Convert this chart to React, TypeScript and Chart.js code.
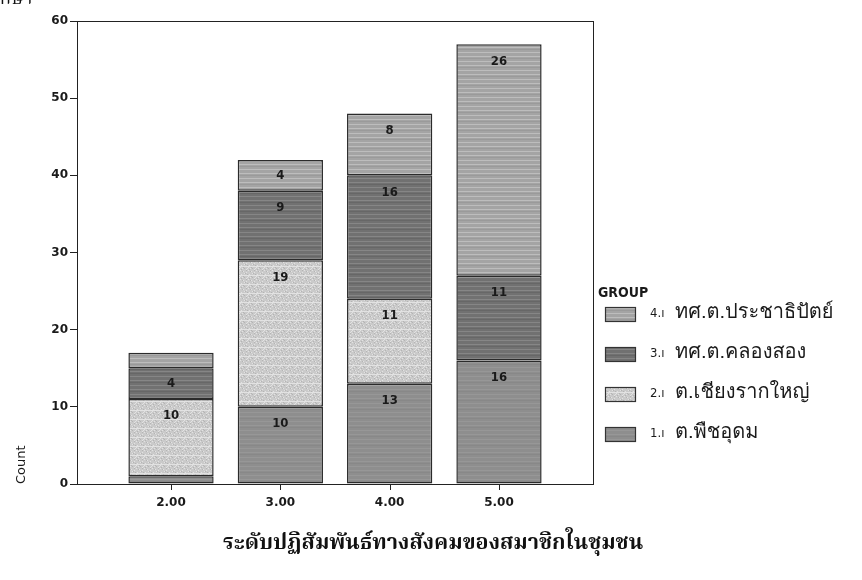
import React, { useEffect, useRef } from 'react';
import { Chart, registerables } from 'chart.js';

Chart.register(...registerables);

// ---- data ----
const levels = [2, 3, 4, 5];
const levelTicks = ['2.00', '3.00', '4.00', '5.00'];
const groupNames = ['ต.พืชอุดม', 'ต.เชียงรากใหญ่', 'ทศ.ต.คลองสอง', 'ทศ.ต.ประชาธิปัตย์'];
// bar segment heights as drawn in the picture
const group1 = [1, 10, 13, 16];
const group2 = [10, 19, 11, 0];
const group3 = [4, 9, 16, 11];
const group4 = [2, 4, 8, 30];
// counts printed inside the segments
const group1Printed = [1, 10, 13, 16];
const group2Printed = [10, 19, 11, 0];
const group3Printed = [4, 9, 16, 11];
const group4Printed = [2, 4, 8, 26];
const yTicks = [0, 10, 20, 30, 40, 50, 60];
const xTitle = 'ระดับปฏิสัมพันธ์ทางสังคมของสมาชิกในชุมชน';
const yTitle = 'Count';
const legendTitle = 'GROUP';
const cornerText = 'กษา';

const SANS = '"DejaVu Sans", sans-serif';
const SANS_C = '"DejaVu Sans Condensed", "DejaVu Sans", sans-serif';
const THAI_SANS = '"Loma", "Garuda", "Noto Sans Thai Looped", "Noto Sans Thai", "Tlwg Typo", sans-serif';
const THAI = '"Noto Serif Thai", "Norasi", "Noto Sans Thai", "Loma", "Garuda", serif';

function makePattern(base: string, light: string, dark: string, kind: 'stripe' | 'speckle'): CanvasPattern | string {
  const c = document.createElement('canvas');
  c.width = 8;
  c.height = 9;
  const g = c.getContext('2d');
  if (!g) return base;
  g.fillStyle = base;
  g.fillRect(0, 0, 8, 9);
  if (kind === 'stripe') {
    g.fillStyle = light;
    g.fillRect(0, 2, 8, 1);
    g.fillRect(0, 7, 8, 1);
    g.fillStyle = dark;
    g.fillRect(0, 4, 8, 1);
  } else {
    const lightPts = [[0, 0], [3, 1], [6, 2], [1, 4], [5, 5], [2, 7], [7, 7], [4, 3], [0, 6], [6, 8]];
    const darkPts = [[2, 1], [5, 3], [7, 4], [3, 6], [1, 8], [6, 0], [4, 7]];
    g.fillStyle = light;
    lightPts.forEach(([x, y]) => g.fillRect(x, y, 1, 1));
    g.fillStyle = dark;
    darkPts.forEach(([x, y]) => g.fillRect(x, y, 1, 1));
    g.fillStyle = light;
    g.fillRect(0, 5, 8, 1);
  }
  const p = g.createPattern(c, 'repeat');
  return p || base;
}

export default function App() {
  const ref = useRef<HTMLCanvasElement>(null);

  useEffect(() => {
    document.body.style.margin = '0';
    const canvas = ref.current;
    if (!canvas) return;

    const fills = [
      makePattern('#8e8e8e', '#979797', '#888888', 'stripe'),
      makePattern('#cacaca', '#e2e2e2', '#b4b4b4', 'speckle'),
      makePattern('#717171', '#868686', '#676767', 'stripe'),
      makePattern('#a4a4a4', '#bdbdbd', '#9a9a9a', 'stripe'),
    ];
    const series = [group1, group2, group3, group4];
    const printed = [group1Printed, group2Printed, group3Printed, group4Printed];

    const labelsPlugin = {
      id: 'segLabels',
      afterDatasetsDraw(chart: any) {
        const ctx = chart.ctx;
        ctx.save();
        ctx.font = `bold 13px ${SANS_C}`;
        ctx.fillStyle = '#1a1a1a';
        ctx.textAlign = 'center';
        ctx.textBaseline = 'middle';
        chart.data.datasets.forEach((ds: any, di: number) => {
          const meta = chart.getDatasetMeta(di);
          meta.data.forEach((el: any, i: number) => {
            const v = printed[di][i];
            const top = Math.min(el.y, el.base);
            const bottom = Math.max(el.y, el.base);
            if (!v || bottom - top < 25) return;
            const y = Math.min(top + 17, (top + bottom) / 2);
            ctx.fillText(String(v), el.x, y);
          });
        });
        ctx.restore();
      },
    };

    const framePlugin = {
      id: 'frameAndText',
      afterDraw(chart: any) {
        const ctx = chart.ctx;
        const a = chart.chartArea;
        ctx.save();
        ctx.strokeStyle = '#222';
        ctx.lineWidth = 1;
        ctx.strokeRect(Math.round(a.left) + 0.5, Math.round(a.top) + 0.5, Math.round(a.right - a.left), Math.round(a.bottom - a.top));

        // x tick marks
        const xs = chart.scales.x;
        levels.forEach((v) => {
          const px = Math.round(xs.getPixelForValue(v)) + 0.5;
          ctx.beginPath();
          ctx.moveTo(px, a.bottom);
          ctx.lineTo(px, a.bottom + 6);
          ctx.stroke();
        });

        // legend
        const lx = a.right + 12;
        ctx.fillStyle = '#1a1a1a';
        ctx.textBaseline = 'middle';
        ctx.textAlign = 'left';
        ctx.font = `bold 14px ${SANS_C}`;
        ctx.fillText(legendTitle, a.right + 5, 293);
        for (let k = 0; k < groupNames.length; k++) {
          const gi = groupNames.length - 1 - k;
          const cy = 314 + k * 40;
          ctx.fillStyle = fills[gi] as any;
          ctx.fillRect(lx, cy - 7, 30, 14);
          ctx.strokeStyle = '#333';
          ctx.lineWidth = 1.2;
          ctx.strokeRect(lx + 0.5, cy - 7 + 0.5, 30, 14);
          ctx.fillStyle = '#1a1a1a';
          ctx.font = `13px ${SANS_C}`;
          ctx.fillText(`${gi + 1}.ı`, lx + 45, cy);
          ctx.font = `20px ${THAI_SANS}`;
          ctx.fillText(groupNames[gi], lx + 70, cy);
        }

        // bottom title
        ctx.font = `bold 21.5px ${THAI}`;
        ctx.textAlign = 'center';
        ctx.fillStyle = '#111';
        ctx.fillText(xTitle, 433, 545);

        // clipped fragment top-left
        ctx.font = `18px ${THAI}`;
        ctx.textAlign = 'left';
        ctx.textBaseline = 'alphabetic';
        ctx.fillText(cornerText, 0, 4);
        ctx.restore();
      },
    };

    const chart = new Chart(canvas, {
      type: 'bar',
      data: {
        datasets: series.map((s, gi) => ({
          label: groupNames[gi],
          data: levels.map((x, i) => ({ x, y: s[i] })),
          backgroundColor: fills[gi] as any,
          borderColor: '#2b2b2b',
          borderWidth: 1.5,
          borderSkipped: false,
          categoryPercentage: 1,
          barPercentage: 0.78,
        })),
      },
      options: {
        responsive: false,
        animation: false,
        layout: { padding: { left: 10, top: 21, right: 269, bottom: 66 } },
        plugins: {
          legend: { display: false },
          tooltip: { enabled: false },
          title: { display: false },
        },
        scales: {
          x: {
            type: 'linear',
            min: 1.14,
            max: 5.86,
            offset: false,
            stacked: true,
            afterBuildTicks: (s: any) => {
              s.ticks = levels.map((v) => ({ value: v }));
            },
            afterFit: (s: any) => {
              s.height = 30;
            },
            grid: { display: false, offset: false, drawOnChartArea: false, drawTicks: true, tickLength: 6, color: '#222' },
            border: { display: true, color: '#222', width: 1 },
            ticks: {
              autoSkip: false,
              maxRotation: 0,
              padding: 6,
              color: '#1a1a1a',
              font: { family: SANS, size: 12, weight: 'bold' },
              callback: (_v: any, i: number) => levelTicks[i],
            },
          },
          y: {
            min: 0,
            max: 60,
            stacked: true,
            afterBuildTicks: (s: any) => {
              s.ticks = yTicks.map((v) => ({ value: v }));
            },
            afterFit: (s: any) => {
              s.width = 67;
            },
            grid: { display: true, drawOnChartArea: false, drawTicks: true, tickLength: 7, color: '#222' },
            border: { display: true, color: '#222', width: 1 },
            ticks: {
              padding: 2,
              color: '#1a1a1a',
              font: { family: SANS, size: 12, weight: 'bold' },
            },
            title: {
              display: true,
              text: yTitle,
              align: 'start',
              color: '#1a1a1a',
              font: { family: SANS, size: 13 },
              padding: { top: 4, bottom: 0 },
            },
          },
        },
      } as any,
      plugins: [labelsPlugin, framePlugin],
    });

    return () => chart.destroy();
  }, []);

  return (
    <div style={{ position: 'fixed', left: 0, top: 0, width: 862, height: 580, background: '#fff' }}>
      <canvas ref={ref} width={862} height={580} />
    </div>
  );
}
